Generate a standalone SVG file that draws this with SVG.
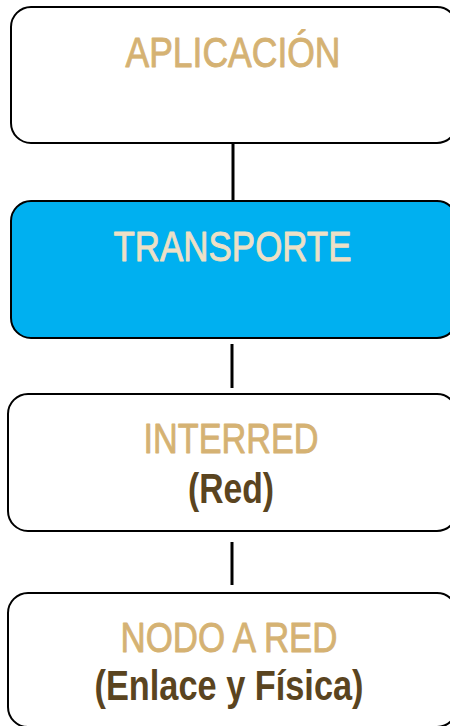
<svg xmlns="http://www.w3.org/2000/svg" width="450" height="726" viewBox="0 0 450 726">
<style>
.box{fill:#FFFFFF;stroke:#000000;stroke-width:2}
.blue{fill:#00B0F0}
.t{font-family:"Liberation Sans Narrow","Liberation Sans",Arial,sans-serif;font-size:42px;text-anchor:middle;stroke-width:0.9;stroke-linejoin:round}
.gold{fill:#D5B273;stroke:#D5B273}
.beige{fill:#EDE0C6;stroke:#EDE0C6}
.brown{fill:#5A4420;stroke:none;font-weight:bold}
.conn{stroke:#000000;stroke-width:3;fill:none}
</style>
<g id="connectors">
<line class="conn" x1="233" y1="143" x2="233" y2="201"/>
<line class="conn" x1="232" y1="344" x2="232" y2="388"/>
<line class="conn" x1="232" y1="542" x2="232" y2="585"/>
</g>
<g id="aplicacion">
<rect class="box" x="11" y="7" width="446" height="136" rx="20" ry="20"/>
<text class="t gold" x="233" y="67" textLength="215" lengthAdjust="spacingAndGlyphs">APLICACIÓN</text>
</g>
<g id="transporte">
<rect class="box blue" x="11" y="201" width="446" height="137" rx="20" ry="20"/>
<text class="t beige" x="232.5" y="261" textLength="238" lengthAdjust="spacingAndGlyphs">TRANSPORTE</text>
</g>
<g id="interred">
<rect class="box" x="8" y="394" width="449" height="137" rx="20" ry="20"/>
<text class="t gold" x="231" y="453" textLength="175" lengthAdjust="spacingAndGlyphs">INTERRED</text>
<text class="t brown" x="231" y="503" textLength="86" lengthAdjust="spacingAndGlyphs">(Red)</text>
</g>
<g id="nodo">
<rect class="box" x="8" y="593" width="449" height="134" rx="20" ry="20"/>
<text class="t gold" x="229" y="652" textLength="217" lengthAdjust="spacingAndGlyphs">NODO A RED</text>
<text class="t brown" x="229" y="700" textLength="269" lengthAdjust="spacingAndGlyphs">(Enlace y Física)</text>
</g>
</svg>
